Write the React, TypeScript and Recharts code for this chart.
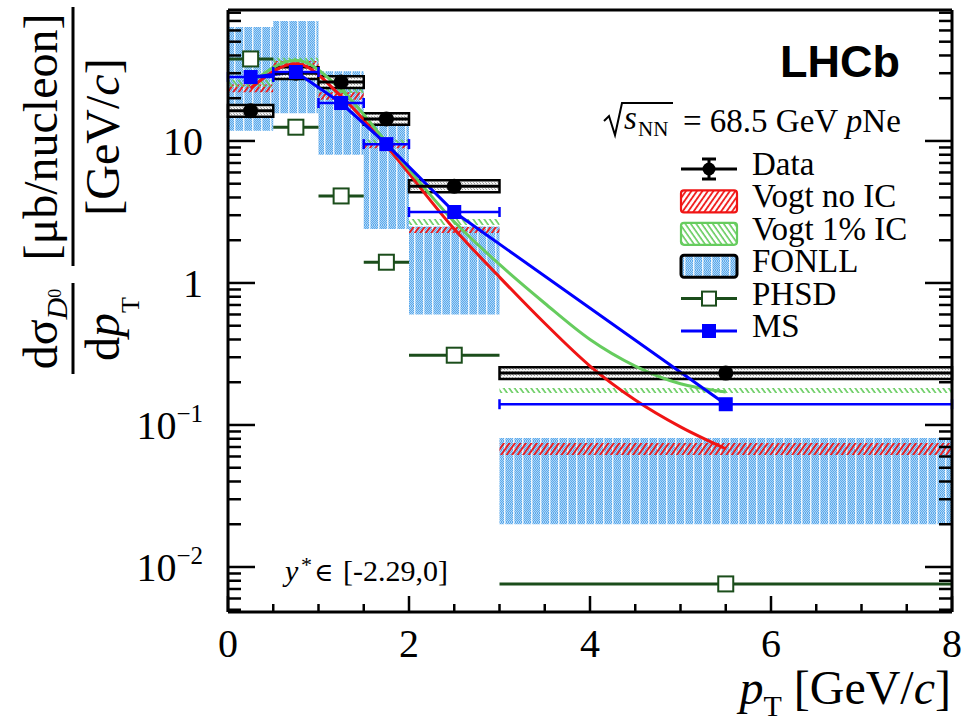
import React from "react";
import {
  ComposedChart,
  XAxis,
  YAxis,
  Line,
  Scatter,
  ErrorBar,
  ReferenceArea,
} from "recharts";

// pT bins [GeV/c]
const binLow = [0, 0.5, 1, 1.5, 2, 3];
const binHigh = [0.5, 1, 1.5, 2, 3, 8];
const binCentre = [0.25, 0.75, 1.25, 1.75, 2.5, 5.5];
const binHalfWidth = [0.25, 0.25, 0.25, 0.25, 0.5, 2.5];

// LHCb data with systematic boxes
const dataValues = [16.3, 30, 26, 14.3, 4.8, 0.232];
const dataSystLow = [14.8, 27.3, 23.6, 13.0, 4.36, 0.211];
const dataSystHigh = [17.9, 33.0, 28.6, 15.7, 5.28, 0.255];

// model predictions
const msValues = [28.2, 30.6, 18.5, 9.5, 3.16, 0.14];
const phsdValues = [37.8, 12.5, 4.1, 1.4, 0.31, 0.0076];

const fonllLow = [11.8, 15.7, 8.0, 2.4, 0.6, 0.02];
const fonllHigh = [63.5, 70, 31, 13.6, 2.5, 0.081];

const vogtNoIcLow = [22, 33.5, 19.5, 8.9, 2.25, 0.0615];
const vogtNoIcHigh = [25, 36.5, 22, 9.6, 2.48, 0.0747];
const vogtIcLow = [24, 35.5, 21.8, 9.4, 2.56, 0.168];
const vogtIcHigh = [27, 38.5, 24.5, 10.2, 2.82, 0.182];

const curveX = [0.25, 0.75, 1.25, 1.75, 2.5, 3, 3.5, 4, 4.5, 5, 5.5];
const vogtNoIcCurve = [23.5, 35, 20.7, 9.2, 2.4, 1.1, 0.52, 0.26, 0.15, 0.097, 0.068];
const vogtIcCurve = [25.5, 37, 23, 9.8, 2.7, 1.35, 0.72, 0.4, 0.26, 0.195, 0.171];

// axes
const xMajorTicks = [0, 2, 4, 6, 8];
const xAllTicks = [0, 0.5, 1, 1.5, 2, 2.5, 3, 3.5, 4, 4.5, 5, 5.5, 6, 6.5, 7, 7.5, 8];
const yMajorTicks = [0.01, 0.1, 1, 10];
const yTickBase = ["10", "10", "1", "10"];
const yTickExp = ["\u22122", "\u22121", "", ""];
const yAllTicks = [
  0.005, 0.006, 0.007, 0.008, 0.009, 0.01,
  0.02, 0.03, 0.04, 0.05, 0.06, 0.07, 0.08, 0.09, 0.1,
  0.2, 0.3, 0.4, 0.5, 0.6, 0.7, 0.8, 0.9, 1,
  2, 3, 4, 5, 6, 7, 8, 9, 10,
  20, 30, 40, 50, 60, 70, 80,
];
const yDomain = [0.00482, 83.6];

const W = 963;
const H = 721;
const SERIF = "'Liberation Serif', 'Times New Roman', serif";

const BLUE = "#0000ff";
const RED = "#f01414";
const GREEN = "#66cc5e";
const DARK_GREEN = "#1b4d1b";

const binRows = (vals: number[]) =>
  binCentre.map((x, i) => ({ x, y: vals[i], xErr: binHalfWidth[i] }));
const dataRows = binRows(dataValues);
const msRows = binRows(msValues);
const phsdRows = binRows(phsdValues);
const noIcRows = curveX.map((x, i) => ({ x, y: vogtNoIcCurve[i] }));
const icRows = curveX.map((x, i) => ({ x, y: vogtIcCurve[i] }));

const TICK_W = 2.5;

function BottomTick({ x, y, payload }: any) {
  const major = xMajorTicks.includes(payload.value);
  return (
    <g>
      <line x1={x} x2={x} y1={y} y2={y - (major ? 16 : 8)} stroke="#000" strokeWidth={TICK_W} />
      {major && (
        <text x={x} y={y + 45} textAnchor="middle" fontSize={40} fontFamily={SERIF} fill="#000">
          {payload.value}
        </text>
      )}
    </g>
  );
}

function TopTick({ x, y, payload }: any) {
  const major = xMajorTicks.includes(payload.value);
  return <line x1={x} x2={x} y1={y} y2={y + (major ? 16 : 8)} stroke="#000" strokeWidth={TICK_W} />;
}

function LeftTick({ x, y, payload }: any) {
  const i = yMajorTicks.indexOf(payload.value);
  return (
    <g>
      <line x1={x} x2={x + (i >= 0 ? 27 : 13)} y1={y} y2={y} stroke="#000" strokeWidth={TICK_W} />
      {i >= 0 && (
        <text x={x - 25} y={y + 14} textAnchor="end" fontSize={40} fontFamily={SERIF} fill="#000">
          {yTickBase[i]}
          {yTickExp[i] && (
            <tspan fontSize={25} dy={-17}>
              {yTickExp[i]}
            </tspan>
          )}
        </text>
      )}
    </g>
  );
}

function RightTick({ x, y, payload }: any) {
  const major = yMajorTicks.includes(payload.value);
  return <line x1={x} x2={x - (major ? 27 : 13)} y1={y} y2={y} stroke="#000" strokeWidth={TICK_W} />;
}

const dot = (p: any) => <circle cx={p.cx} cy={p.cy} r={7.5} fill="#000" />;
const msSquare = (p: any) => (
  <rect x={p.cx - 7} y={p.cy - 7} width={14} height={14} fill={BLUE} />
);
const phsdSquare = (p: any) => (
  <rect x={p.cx - 7.5} y={p.cy - 7.5} width={15} height={15} fill="#fff" stroke={DARK_GREEN} strokeWidth={2} />
);

function Patterns() {
  return (
    <svg width={0} height={0} style={{ position: "absolute" }}>
      <defs>
        <pattern id="fonllChecker" width={2} height={2} patternUnits="userSpaceOnUse">
          <rect width={2} height={2} fill="#aed7f8" />
          <rect x={0} y={0} width={1} height={1} fill="#5ca8ea" />
          <rect x={1} y={1} width={1} height={1} fill="#5ca8ea" />
        </pattern>
        <pattern id="fonll" width={9} height={9} patternUnits="userSpaceOnUse">
          <rect width={9} height={9} fill="url(#fonllChecker)" />
          <rect x={0} width={1.4} height={9} fill="#ffffff" opacity={0.85} />
        </pattern>
        <pattern id="dataHatch" width={3} height={3} patternUnits="userSpaceOnUse">
          <rect width={3} height={3} fill="#f6f6f6" />
          <rect x={0} y={0} width={1} height={1} fill="#9a9a9a" />
          <rect x={2} y={2} width={1} height={1} fill="#b0b0b0" />
        </pattern>
        <pattern id="redHatch" width={4.5} height={4.5} patternUnits="userSpaceOnUse" patternTransform="rotate(35)">
          <line x1={1} y1={0} x2={1} y2={4.5} stroke={RED} strokeWidth={1.8} />
        </pattern>
        <pattern id="greenHatch" width={4.5} height={4.5} patternUnits="userSpaceOnUse" patternTransform="rotate(-35)">
          <line x1={1} y1={0} x2={1} y2={4.5} stroke={GREEN} strokeWidth={1.6} />
        </pattern>
      </defs>
    </svg>
  );
}

const legendRows = ["Data", "Vogt no IC", "Vogt 1% IC", "FONLL", "PHSD", "MS"];

function LegendSymbol({ i, cy }: { i: number; cy: number }) {
  const x1 = 681;
  const x2 = 737;
  const cx = (x1 + x2) / 2;
  if (i === 0)
    return (
      <g>
        <line x1={x1} x2={x2} y1={cy} y2={cy} stroke="#000" strokeWidth={3} />
        <line x1={cx} x2={cx} y1={cy - 10} y2={cy + 10} stroke="#000" strokeWidth={3} />
        <line x1={cx - 7} x2={cx + 7} y1={cy - 10} y2={cy - 10} stroke="#000" strokeWidth={3} />
        <line x1={cx - 7} x2={cx + 7} y1={cy + 10} y2={cy + 10} stroke="#000" strokeWidth={3} />
        <circle cx={cx} cy={cy} r={6.5} fill="#000" />
      </g>
    );
  if (i === 1 || i === 2 || i === 3) {
    const fill = ["", "url(#redHatch)", "url(#greenHatch)", "url(#fonll)"][i];
    const stroke = ["", RED, GREEN, "#000"][i];
    return (
      <rect x={x1} y={cy - 11} width={x2 - x1} height={22} rx={3} fill={fill} stroke={stroke} strokeWidth={i === 3 ? 3 : 2.2} />
    );
  }
  const col = i === 4 ? DARK_GREEN : BLUE;
  return (
    <g>
      <line x1={x1} x2={x2} y1={cy} y2={cy} stroke={col} strokeWidth={3} />
      {i === 4 ? (
        <rect x={cx - 7} y={cy - 7} width={14} height={14} fill="#fff" stroke={col} strokeWidth={2} />
      ) : (
        <rect x={cx - 7} y={cy - 7} width={14} height={14} fill={col} />
      )}
    </g>
  );
}

function Overlay() {
  return (
    <svg
      width={W}
      height={H}
      style={{ position: "absolute", left: 0, top: 0, pointerEvents: "none" }}
      fontFamily={SERIF}
    >
      {/* y axis title */}
      <g transform="rotate(-90)" fill="#000">
        <text x={-137} y={57} fontSize={48} textAnchor="middle">
          [μb/nucleon]
        </text>
        <line x1={-7} x2={-266} y1={73} y2={73} stroke="#000" strokeWidth={3} />
        <text x={-137} y={119} fontSize={48} textAnchor="middle">
          [GeV/<tspan fontStyle="italic">c</tspan>]
        </text>
        <text x={-329} y={57} fontSize={48} textAnchor="middle">
          dσ
          <tspan fontStyle="italic" fontSize={30} dy={10}>
            D
          </tspan>
          <tspan fontSize={18} dy={-6}>
            0
          </tspan>
        </text>
        <line x1={-283} x2={-374} y1={73} y2={73} stroke="#000" strokeWidth={3} />
        <text x={-329} y={119} fontSize={48} textAnchor="middle">
          d<tspan fontStyle="italic">p</tspan>
          <tspan fontSize={26} dy={20}>
            T
          </tspan>
        </text>
      </g>

      {/* x axis title */}
      <text x={951} y={704} fontSize={48} textAnchor="end" fill="#000">
        <tspan fontStyle="italic">p</tspan>
        <tspan fontSize={30} dy={12}>
          T
        </tspan>
        <tspan dy={-12}> [GeV/</tspan>
        <tspan fontStyle="italic">c</tspan>]
      </text>

      <text x={900} y={77} fontSize={45} fontWeight="bold" textAnchor="end" fontFamily="'Liberation Sans', Arial, sans-serif" fill="#000">
        LHCb
      </text>

      {/* sqrt(s_NN) */}
      <path d="M604,121 L609,116 L615,135 L622,103 L673,103" fill="none" stroke="#000" strokeWidth={2} />
      <text x={624} y={129} fontSize={33} fontStyle="italic" fill="#000">
        s
      </text>
      <text x={638} y={136} fontSize={21} fill="#000">
        NN
      </text>
      <text x={683} y={132} fontSize={33} fill="#000">
        = 68.5 GeV <tspan fontStyle="italic">p</tspan>Ne
      </text>

      {legendRows.map((label, i) => {
        const base = 175 + i * 32.4;
        return (
          <g key={label}>
            <LegendSymbol i={i} cy={base - 6} />
            <text x={752} y={base} fontSize={33} fill="#000">
              {label}
            </text>
          </g>
        );
      })}

      {/* rapidity range */}
      <text x={285} y={581} fontSize={30} fontStyle="italic" fill="#000">
        y
      </text>
      <text x={301} y={572} fontSize={22} fill="#000">
        *
      </text>
      <text x={314} y={581} fontSize={26} fontFamily="'DejaVu Serif', serif" fill="#000">
        ∈
      </text>
      <text x={343} y={581} fontSize={30} fill="#000">
        [-2.29,0]
      </text>
    </svg>
  );
}

const axisLine = { stroke: "#000", strokeWidth: 3 };

export default function App() {
  return (
    <div style={{ position: "absolute", left: 0, top: 0, width: W, height: H, background: "#fff" }}>
      <Patterns />
      <ComposedChart width={W} height={H} margin={{ top: 9, right: 10, bottom: 49, left: 128 }}>
        <XAxis
          xAxisId="x"
          type="number"
          dataKey="x"
          domain={[0, 8]}
          ticks={xAllTicks}
          interval={0}
          height={60}
          tick={<BottomTick />}
          tickSize={0}
          tickMargin={0}
          tickLine={false}
          axisLine={axisLine}
          allowDataOverflow
        />
        <XAxis
          xAxisId="xTop"
          orientation="top"
          type="number"
          domain={[0, 8]}
          ticks={xAllTicks}
          interval={0}
          height={1}
          tick={<TopTick />}
          tickSize={0}
          tickMargin={0}
          tickLine={false}
          axisLine={axisLine}
          allowDataOverflow
        />
        <YAxis
          yAxisId="y"
          type="number"
          dataKey="y"
          scale="log"
          domain={yDomain}
          ticks={yAllTicks}
          interval={0}
          width={100}
          tick={<LeftTick />}
          tickSize={0}
          tickMargin={0}
          tickLine={false}
          axisLine={axisLine}
          allowDataOverflow
        />
        <YAxis
          yAxisId="yRight"
          orientation="right"
          type="number"
          scale="log"
          domain={yDomain}
          ticks={yAllTicks}
          interval={0}
          width={1}
          tick={<RightTick />}
          tickSize={0}
          tickMargin={0}
          tickLine={false}
          axisLine={axisLine}
          allowDataOverflow
        />

        {binLow.map((lo, i) => (
          <ReferenceArea
            key={`fonll-${i}`}
            xAxisId="x"
            yAxisId="y"
            x1={lo}
            x2={binHigh[i]}
            y1={fonllLow[i]}
            y2={fonllHigh[i]}
            fill="url(#fonll)"
            fillOpacity={1}
            stroke="none"
            ifOverflow="visible"
          />
        ))}
        {binLow.map((lo, i) => (
          <ReferenceArea
            key={`noic-${i}`}
            xAxisId="x"
            yAxisId="y"
            x1={lo}
            x2={binHigh[i]}
            y1={vogtNoIcLow[i]}
            y2={vogtNoIcHigh[i]}
            fill="url(#redHatch)"
            fillOpacity={1}
            stroke="none"
            ifOverflow="visible"
          />
        ))}
        {binLow.map((lo, i) => (
          <ReferenceArea
            key={`ic-${i}`}
            xAxisId="x"
            yAxisId="y"
            x1={lo}
            x2={binHigh[i]}
            y1={vogtIcLow[i]}
            y2={vogtIcHigh[i]}
            fill="url(#greenHatch)"
            fillOpacity={1}
            stroke="none"
            ifOverflow="visible"
          />
        ))}
        {binLow.map((lo, i) => (
          <ReferenceArea
            key={`syst-${i}`}
            xAxisId="x"
            yAxisId="y"
            x1={lo}
            x2={binHigh[i]}
            y1={dataSystLow[i]}
            y2={dataSystHigh[i]}
            fill="url(#dataHatch)"
            fillOpacity={1}
            stroke="#000"
            strokeWidth={2.5}
            ifOverflow="visible"
          />
        ))}

        <Line
          xAxisId="x"
          yAxisId="y"
          data={noIcRows}
          dataKey="y"
          type="monotone"
          stroke={RED}
          strokeWidth={3}
          dot={false}
          isAnimationActive={false}
        />
        <Line
          xAxisId="x"
          yAxisId="y"
          data={icRows}
          dataKey="y"
          type="monotone"
          stroke={GREEN}
          strokeWidth={3}
          dot={false}
          isAnimationActive={false}
        />
        <Line
          xAxisId="x"
          yAxisId="y"
          data={msRows}
          dataKey="y"
          type="linear"
          stroke={BLUE}
          strokeWidth={3}
          dot={false}
          isAnimationActive={false}
        />

        <Scatter xAxisId="x" yAxisId="y" data={phsdRows} dataKey="y" shape={phsdSquare} isAnimationActive={false}>
          <ErrorBar dataKey="xErr" direction="x" width={0} stroke={DARK_GREEN} strokeWidth={3} />
        </Scatter>
        <Scatter xAxisId="x" yAxisId="y" data={dataRows} dataKey="y" shape={dot} isAnimationActive={false}>
          <ErrorBar dataKey="xErr" direction="x" width={0} stroke="#000" strokeWidth={3} />
        </Scatter>
        <Scatter xAxisId="x" yAxisId="y" data={msRows} dataKey="y" shape={msSquare} isAnimationActive={false}>
          <ErrorBar dataKey="xErr" direction="x" width={5} stroke={BLUE} strokeWidth={2.5} />
        </Scatter>
      </ComposedChart>
      <Overlay />
    </div>
  );
}
